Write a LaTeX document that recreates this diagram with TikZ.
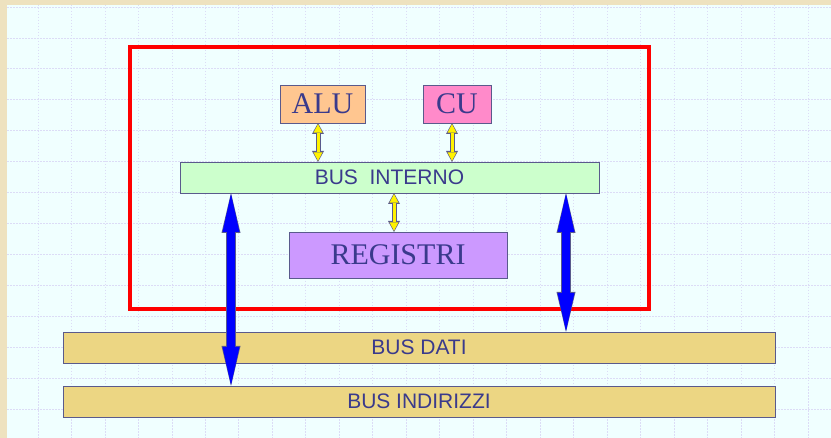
\documentclass[tikz,border=0pt]{standalone}
\usepackage{fontspec}
\setmainfont{Liberation Serif}
\setsansfont{Liberation Sans}
\usepackage{tikz}
\usetikzlibrary{arrows.meta}
\definecolor{frame}{HTML}{EEE2BF}
\definecolor{paper}{HTML}{F0FFFF}
\definecolor{gridc}{HTML}{DCDCF6}
\definecolor{ink}{HTML}{3A3A8C}
\definecolor{edge}{HTML}{5A5A8C}
\definecolor{alufill}{HTML}{FFC690}
\definecolor{cufill}{HTML}{FF8ACA}
\definecolor{intfill}{HTML}{CCFFCC}
\definecolor{regfill}{HTML}{CC99FF}
\definecolor{busfill}{HTML}{ECD683}
\tikzset{
  gridline/.style={draw=gridc, line width=0.8pt, dash pattern=on 1.5pt off 1.5pt},
  unit/.style={draw=edge, line width=0.9pt, inner sep=0pt, outer sep=0pt, text=ink,
    font=\fontsize{30}{30}\selectfont},
  bus/.style={draw=edge, line width=0.9pt, inner sep=0pt, outer sep=0pt, text=ink,
    font=\sffamily\fontsize{21}{21}\selectfont},
  cpuframe/.style={draw=red, line width=4pt},
  ylink/.style={
    preaction={draw=edge, line width=5pt, shorten <=0pt, shorten >=0pt,
      {Triangle[width=12pt,length=11pt,line width=0pt]}-{Triangle[width=12pt,length=11pt,line width=0pt]}},
    draw=yellow, line width=3pt, shorten <=1.2pt, shorten >=1.2pt,
    {Triangle[width=9pt,length=8.5pt,line width=0pt]}-{Triangle[width=9pt,length=8.5pt,line width=0pt]}},
  blink/.style={
    preaction={draw=edge, line width=9.5pt, shorten <=0pt, shorten >=0pt,
      {Triangle[width=19pt,length=40pt,line width=0pt]}-{Triangle[width=19pt,length=40pt,line width=0pt]}},
    draw=blue, line width=8pt, shorten <=1pt, shorten >=1pt,
    {Triangle[width=17pt,length=38pt,line width=0pt]}-{Triangle[width=17pt,length=38pt,line width=0pt]}},
}
\begin{document}
\begin{tikzpicture}[x=1pt, y=-1pt]
  \useasboundingbox (0,0) rectangle (831,438);
  % background sheet and dotted grid
  \fill[frame] (0,0) rectangle (831,438);
  \fill[paper] (7,5) rectangle (831,438);
  \foreach \i in {0,...,23}
    \draw[gridline] ({38+33.48*\i},5) -- ({38+33.48*\i},438);
  \foreach \j in {0,...,13}
    \draw[gridline] (7,{7+30.92*\j}) -- (831,{7+30.92*\j});

  % processor boundary
  \draw[cpuframe] (130,47) rectangle (649,309);

  % units
  \node[unit, fill=alufill, minimum width=85pt, minimum height=38pt] (alu) at (322.5,104) {ALU};
  \node[unit, fill=cufill, minimum width=68pt, minimum height=38pt] (cu) at (457,104) {CU};
  \node[bus, fill=intfill, minimum width=419pt, minimum height=31pt] (interno) at (389.5,177.5) {BUS~~INTERNO};
  \node[unit, fill=regfill, minimum width=218pt, minimum height=46pt] (registri) at (398,255) {REGISTRI};

  % external buses
  \node[bus, fill=busfill, minimum width=712pt, minimum height=31pt] (dati) at (419,347.5) {BUS DATI};
  \node[bus, fill=busfill, minimum width=712pt, minimum height=31pt] (indirizzi) at (419,401.5) {BUS INDIRIZZI};

  % internal links
  \coordinate (xalu) at (318,0);
  \coordinate (xcu) at (452,0);
  \coordinate (xreg) at (394,0);
  \draw[ylink] (alu.south -| xalu) -- (interno.north -| xalu);
  \draw[ylink] (cu.south -| xcu) -- (interno.north -| xcu);
  \draw[ylink] (interno.south -| xreg) -- (registri.north -| xreg);

  % links to the system buses
  \coordinate (xind) at (231,0);
  \coordinate (xdat) at (566,0);
  \draw[blink] (interno.south -| xind) -- (indirizzi.north -| xind);
  \draw[blink] (interno.south -| xdat) -- (dati.north -| xdat);
\end{tikzpicture}
\end{document}
